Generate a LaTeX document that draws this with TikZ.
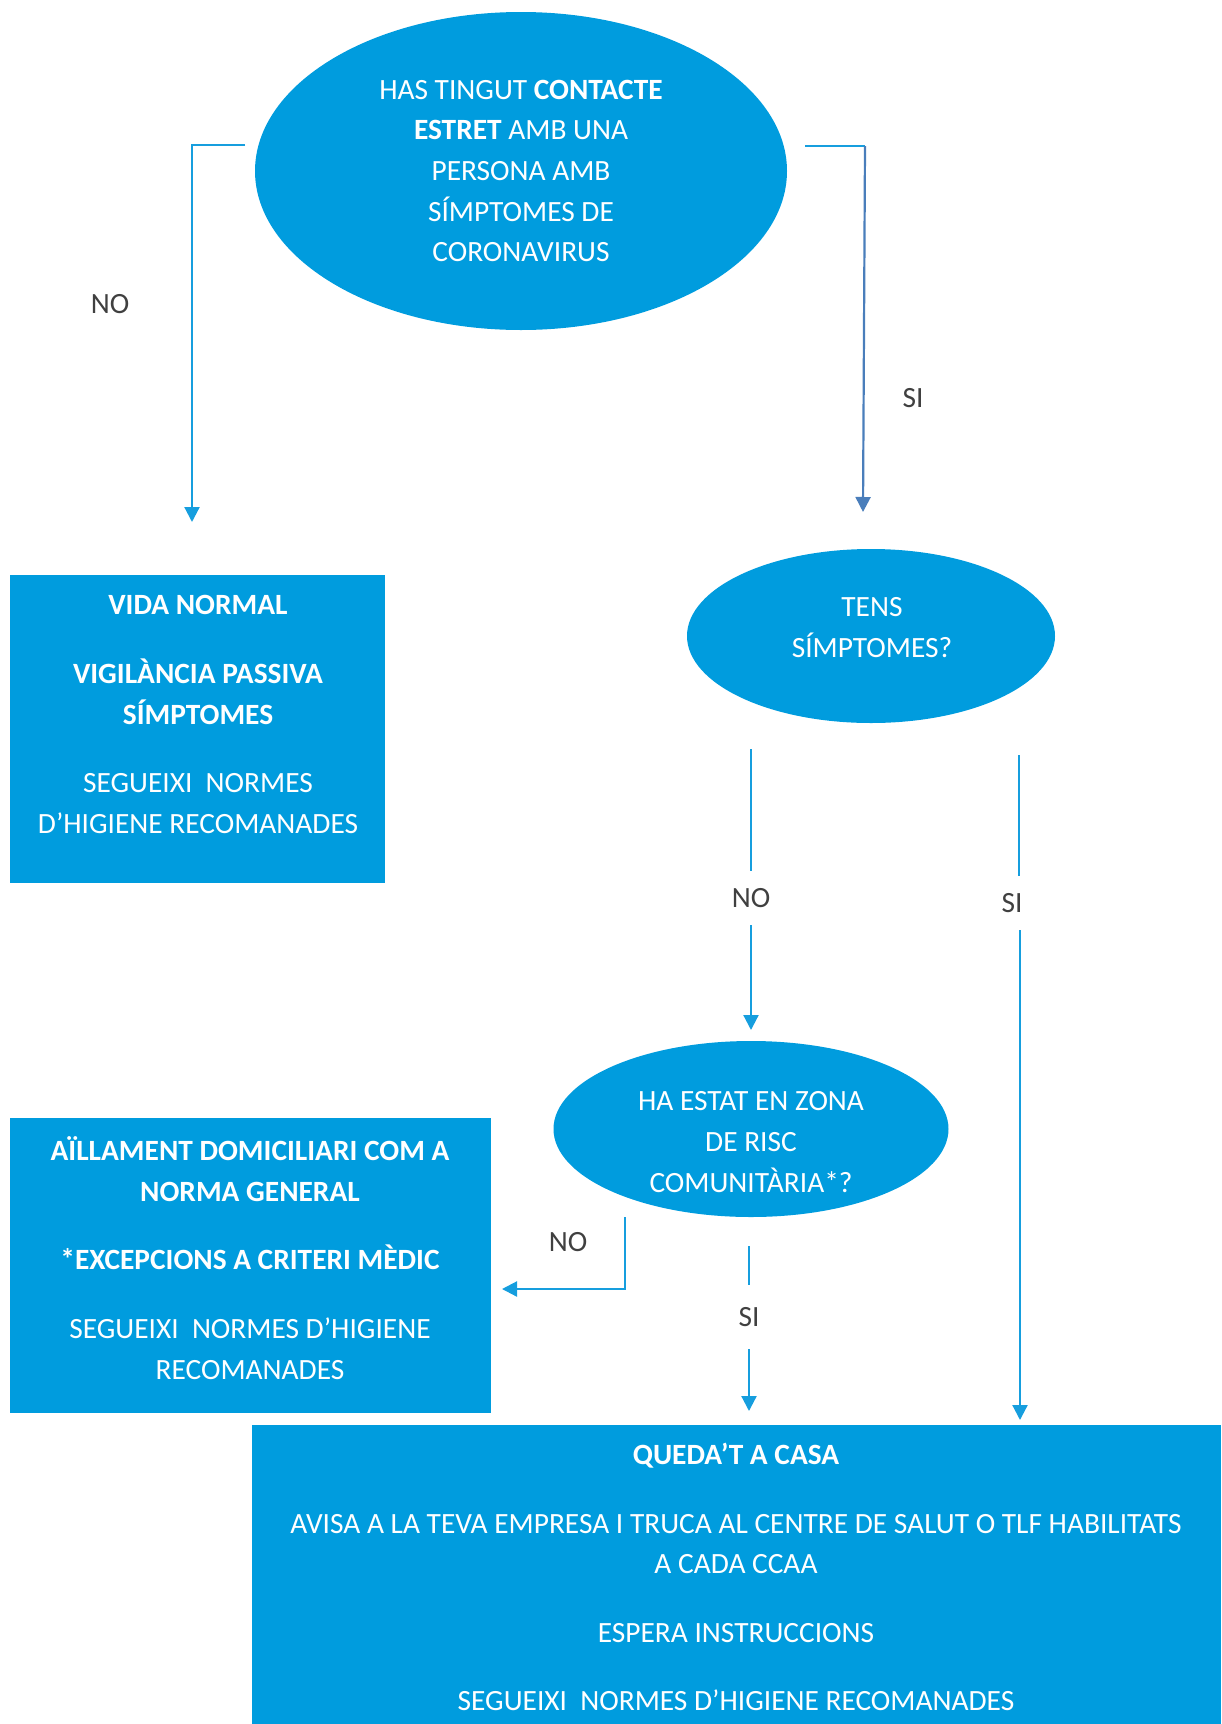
\documentclass[tikz,border=0pt]{standalone}
\usepackage{fontspec}
\setmainfont{Carlito}
\usepackage{tikz}
\usetikzlibrary{shapes.geometric,arrows.meta}

\definecolor{fillblue}{RGB}{0,156,222}
\definecolor{lineblue}{RGB}{22,158,222}
\definecolor{darkline}{RGB}{74,126,187}
\definecolor{labelgray}{RGB}{64,64,64}

\begin{document}
\begin{tikzpicture}[x=0.5pt, y=-0.5pt, >={Triangle[width=7.5pt,length=7.5pt]},
    font=\fontsize{14.7}{20.3}\selectfont,
    bubble/.style={ellipse, fill=fillblue, text=white, align=center, inner sep=0pt},
    infobox/.style={rectangle, fill=fillblue, inner sep=0pt},
    boxtext/.style={text=white, align=center, inner sep=0pt},
    answer/.style={text=labelgray, inner sep=0pt, minimum height=27pt},
    flow/.style={draw=lineblue, line width=1.1pt}]
    \useasboundingbox (0,0) rectangle (1221,1724);

    % questions
    \node[bubble, minimum width=266pt, minimum height=159pt] (contact) at (521,171)
        {HAS TINGUT \textbf{CONTACTE}\\ \textbf{ESTRET} AMB UNA\\ PERSONA AMB\\ SÍMPTOMES DE\\ CORONAVIRUS};
    \node[bubble, minimum width=184pt, minimum height=87pt] (tens) at (871,636) {};
    \node[boxtext] (tenstxt) at (872,627.5) {TENS\\ SÍMPTOMES?};
    \node[bubble, minimum width=197.5pt, minimum height=88pt] (zona) at (751,1129) {};
    \node[boxtext] (zonatxt) at (751,1142) {HA ESTAT EN ZONA\\ DE RISC\\ COMUNITÀRIA*?};

    % answers
    \node[infobox, minimum width=187.5pt, minimum height=154pt] (vida) at (197.5,729) {};
    \node[boxtext] (vidatxt) at (198,714.5)
        {\textbf{VIDA NORMAL}\\[14pt] \textbf{VIGILÀNCIA PASSIVA}\\ \textbf{SÍMPTOMES}\\[14pt]
         SEGUEIXI~ NORMES\\ D’HIGIENE RECOMANADES};
    \node[infobox, minimum width=240.5pt, minimum height=147.5pt] (aillament) at (250.5,1265.5) {};
    \node[boxtext] (aillamenttxt) at (250,1258)
        {\textbf{AÏLLAMENT DOMICILIARI COM A}\\ \textbf{NORMA GENERAL}\\[14pt]
         \textbf{*EXCEPCIONS A CRITERI MÈDIC}\\[14pt] SEGUEIXI~ NORMES D’HIGIENE\\ RECOMANADES};
    \node[infobox, minimum width=484.5pt, minimum height=149.5pt] (queda) at (736.5,1574.5) {};
    \node[boxtext] (quedatxt) at (736,1577)
        {\textbf{QUEDA’T A CASA}\\[14pt]
         AVISA A LA TEVA EMPRESA I TRUCA AL CENTRE DE SALUT O TLF HABILITATS\\ A CADA CCAA\\[14pt]
         ESPERA INSTRUCCIONS\\[14pt] SEGUEIXI~ NORMES D’HIGIENE RECOMANADES};

    % labels
    \node[answer] (no1) at (110,304) {NO};
    \node[answer] (si1) at (913,398) {SI};
    \node[answer] (no2) at (751,898) {NO};
    \node[answer] (si2) at (1012,903) {SI};
    \node[answer] (no3) at (568,1242) {NO};
    \node[answer, minimum height=32pt] (si3) at (749,1317) {SI};

    % connector ends
    \coordinate (no1a) at (245,145);
    \coordinate (no1b) at (192,522);
    \coordinate (si1a) at (805,146);
    \coordinate (si1c) at (865,146);
    \coordinate (si1b) at (863,512);
    \coordinate (no2a) at (751,749);
    \coordinate (no2b) at (751,1030);
    \coordinate (si2a) at (1019,755);
    \coordinate (si2b) at (1020,1420);
    \coordinate (no3a) at (625,1217);
    \coordinate (no3b) at (502,1289);
    \coordinate (si3a) at (749,1246);
    \coordinate (si3b) at (749,1411);

    % connectors
    \draw[flow,->] (no1a) -| (no1b);
    \draw[flow] (si1a) -- (si1c);
    \draw[flow, draw=darkline, ->] (si1c) -- (si1b);
    \draw[flow] (no2a) -- (no2);
    \draw[flow,->] (no2) -- (no2b);
    \draw[flow] (si2a) -- (si2a |- si2.north);
    \draw[flow,->] (si2b |- si2.south) -- (si2b);
    \draw[flow,->] (no3a) |- (no3b);
    \draw[flow] (si3a) -- (si3);
    \draw[flow,->] (si3) -- (si3b);
\end{tikzpicture}
\end{document}
